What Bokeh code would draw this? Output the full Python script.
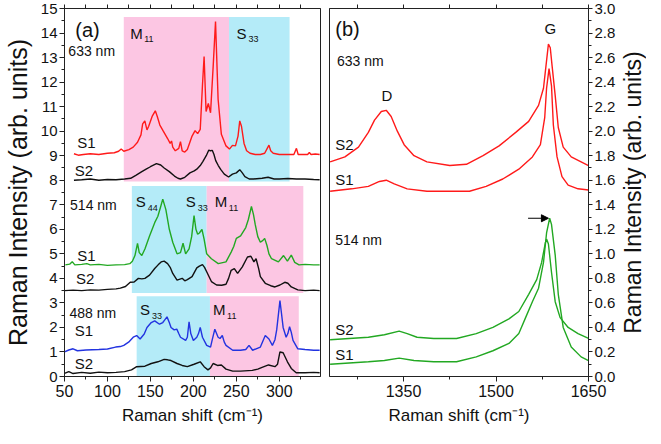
import math
from bokeh.plotting import figure
from bokeh.layouts import row
from bokeh.models import (ColumnDataSource, Range1d, LinearAxis, SingleIntervalTicker, FixedTicker,
                          PrintfTickFormatter, Arrow, NormalHead, Title)
from bokeh.core.properties import value
from bokeh.embed import file_html
from bokeh.resources import INLINE

FONT = "Liberation Sans"

# ---------------- panel (a) data: RBM region ----------------
x633_s1 = [61, 66, 72, 80, 90, 100, 108, 113, 116, 119, 125, 130, 135, 139, 141, 143.5, 146, 148, 152, 155.7,
           158, 161, 165, 170, 173, 174.6, 176, 179, 183, 185, 187, 190, 193, 198.5, 202, 205, 208, 210.6,
           212.5, 214.8, 217.4, 220, 223, 225.8, 228.8, 232.6, 238, 242, 245.5, 249, 252, 254, 256, 259, 262,
           266, 272, 278, 283, 286, 288, 290, 293, 300, 310, 317, 320, 322, 328, 333, 335, 337, 342, 347]
y633_s1 = [9.08, 9.02, 9.05, 9.08, 9.05, 9.1, 9.12, 9.18, 9.27, 9.18, 9.25, 9.35, 9.55, 9.85, 10.3, 10.42, 10.05,
           10.2, 10.6, 10.83, 10.6, 10.25, 10.0, 9.7, 9.5, 9.6, 9.35, 9.2, 9.3, 9.57, 9.2, 9.15, 9.25, 9.8, 10.02,
           9.9, 10.07, 11.87, 13.04, 10.8, 11.13, 10.75, 12.6, 14.47, 11.3, 9.87, 9.4, 9.27, 9.42, 9.4, 9.8,
           10.42, 10.2, 9.5, 9.2, 9.1, 9.05, 9.05, 9.1, 9.3, 9.43, 9.2, 9.1, 9.05, 9.05, 9.05, 9.3, 9.05, 9.05,
           9.05, 9.13, 9.05, 9.07, 9.05]

x633_s2 = [61, 70, 80, 90, 100, 110, 120, 127, 133, 140, 145, 150, 157, 162, 166, 172, 178, 182, 185, 190, 196,
           201, 204, 208, 211, 215, 218, 220, 222, 224, 226, 229, 232, 236, 241, 245.5, 250, 254, 257, 260, 265,
           270, 280, 287, 294, 300, 310, 320, 330, 340, 347]
y633_s2 = [8.0, 8.02, 8.05, 8.0, 8.03, 8.02, 8.05, 8.08, 8.2, 8.35, 8.45, 8.55, 8.68, 8.62, 8.5, 8.35, 8.17,
           8.08, 8.05, 8.12, 8.3, 8.38, 8.45, 8.6, 8.76, 9.0, 9.23, 9.2, 9.22, 9.05, 8.8, 8.6, 8.43, 8.25, 8.13,
           8.25, 8.3, 8.43, 8.3, 8.15, 8.05, 8.05, 8.08, 8.12, 8.05, 8.05, 8.07, 8.05, 8.05, 8.03, 8.02]

x514_s1 = [51, 56, 59, 62, 70, 76, 80, 90, 100, 110, 120, 126, 129, 132, 135, 137, 140, 143.6, 149, 155, 158.7,
           162, 164.4, 168, 172, 176, 181, 185, 188, 191, 195, 198, 200.8, 203, 205, 207, 210, 212.5, 215.5,
           221, 229, 238, 244, 247, 250, 255, 261, 264, 267.6, 270, 272, 275, 278, 281, 283, 285.6, 288, 291,
           299, 305, 309.5, 314, 318, 323, 330, 340, 347]
y514_s1 = [4.55, 4.58, 4.68, 4.55, 4.57, 4.6, 4.55, 4.57, 4.53, 4.55, 4.56, 4.6, 4.7, 4.93, 5.43, 5.05, 4.93, 5.2,
           5.73, 6.27, 6.53, 6.93, 7.23, 6.8, 6.0, 5.47, 5.0, 5.05, 5.43, 5.0, 5.2, 5.7, 6.56, 6.0, 5.8, 5.85,
           6.0, 5.6, 5.0, 4.8, 4.6, 4.67, 5.07, 5.3, 5.63, 5.73, 6.07, 6.4, 6.93, 6.6, 6.2, 5.7, 5.47, 5.55,
           5.63, 5.35, 5.0, 4.8, 4.67, 4.93, 4.7, 4.95, 4.65, 4.55, 4.57, 4.55, 4.55]

x514_s2 = [50, 60, 70, 80, 90, 100, 110, 115, 121, 126.5, 131, 136, 140, 143.6, 149, 155, 159, 162.5, 166, 170,
           173, 176, 181, 187, 190, 193, 198.5, 204, 207, 210.6, 213, 215.5, 221, 227, 233, 238, 241, 244,
           247.7, 251.5, 257, 263, 267, 270.5, 273, 276, 278, 283.7, 290, 295, 300.8, 306.4, 310, 314, 321.6,
           330, 340, 347]
y514_s2 = [3.5, 3.52, 3.5, 3.53, 3.52, 3.55, 3.57, 3.6, 3.67, 3.84, 3.85, 4.0, 3.98, 4.0, 4.13, 4.4, 4.55, 4.67,
           4.7, 4.6, 4.45, 4.2, 3.93, 4.0, 3.9, 3.95, 4.07, 4.43, 4.5, 4.56, 4.45, 4.27, 3.87, 3.73, 3.72, 3.76,
           4.0, 4.33, 4.4, 4.2, 4.47, 4.87, 4.9, 4.67, 4.8, 4.4, 4.07, 3.8, 3.7, 3.65, 3.73, 3.84, 3.8, 3.65,
           3.53, 3.5, 3.52, 3.5]

x488_s1 = [50, 55, 60, 65, 75, 90, 100, 109.5, 115, 119, 124.6, 130, 134, 138, 142.8, 146, 151, 155, 160.6,
           164.4, 166.5, 169.3, 172, 174, 177.7, 180.7, 183, 185, 191, 193, 195, 197, 200, 204, 206, 208, 210.6,
           215.5, 220, 222, 225, 228.8, 231, 233.7, 236, 238, 245.8, 255, 261, 264.8, 269, 278, 283.7, 288, 292,
           295, 297, 300.8, 302.5, 304.5, 308, 310, 312, 314, 316, 321.6, 330, 340, 347]
y488_s1 = [1.0, 1.08, 1.13, 1.05, 1.08, 1.1, 1.12, 1.2, 1.22, 1.27, 1.4, 1.6, 1.67, 1.53, 1.73, 2.0, 2.2, 2.27,
           2.13, 2.2, 2.3, 2.43, 2.2, 2.0, 1.9, 1.93, 1.75, 1.6, 1.47, 1.6, 2.23, 1.75, 1.47, 1.6, 1.75, 2.0, 1.6,
           1.27, 1.2, 1.5, 1.93, 1.6, 1.55, 1.67, 1.4, 1.27, 1.07, 1.07, 1.1, 1.27, 1.07, 1.2, 1.67, 1.53, 1.27,
           1.5, 1.9, 3.09, 2.6, 2.0, 1.6, 1.75, 2.03, 1.8, 1.47, 1.13, 1.1, 1.07, 1.07]

x488_s2 = [50, 55, 60, 70, 80, 90, 100, 110, 120, 128, 134, 143.6, 151, 158.7, 166, 170, 174, 181, 187, 193,
           200.8, 208, 212.5, 217, 220, 223, 228, 232.6, 238, 245.8, 255, 268.6, 275, 280, 287.5, 295, 298,
           300.8, 304.5, 309.5, 314, 319.7, 330, 340, 347]
y488_s2 = [0.13, 0.2, 0.12, 0.17, 0.13, 0.18, 0.15, 0.17, 0.2, 0.27, 0.4, 0.42, 0.53, 0.6, 0.7, 0.68, 0.65, 0.53,
           0.45, 0.4, 0.5, 0.6, 0.4, 0.27, 0.35, 0.53, 0.45, 0.47, 0.3, 0.22, 0.22, 0.25, 0.3, 0.37, 0.47, 0.4,
           0.5, 1.0, 0.97, 0.6, 0.33, 0.15, 0.15, 0.17, 0.15]

# resonance windows (M11 / S33 / S44)
band_left = [119, 241.5, 128.4, 215.5, 134, 219.3]
band_right = [241.5, 312, 215.5, 328, 219.3, 322.7]
band_bottom = [7.95, 7.95, 3.4, 3.4, 0.0, 0.0]
band_top = [14.65, 14.65, 7.77, 7.77, 3.27, 3.27]
band_kind = ["M", "S", "S", "M", "S", "M"]

# ---------------- panel (b) data: D / G region ----------------
xg633_s2 = [1231, 1255, 1277, 1293, 1303, 1314, 1322, 1330, 1340, 1351, 1367, 1388, 1425, 1452, 1479, 1505, 1532,
            1553, 1569, 1577, 1581, 1585, 1588, 1591, 1596, 1601, 1609, 1622, 1638, 1650]
yg633_s2 = [1.75, 1.79, 1.87, 1.99, 2.09, 2.16, 2.17, 2.12, 2.0, 1.89, 1.8, 1.75, 1.72, 1.73, 1.8, 1.88, 1.99,
            2.08, 2.21, 2.35, 2.53, 2.71, 2.68, 2.53, 2.29, 2.03, 1.87, 1.79, 1.75, 1.72]
xg633_s1 = [1231, 1266, 1293, 1311, 1322, 1335, 1356, 1388, 1425, 1457, 1484, 1511, 1537, 1559, 1572, 1579, 1582,
            1586, 1590, 1593, 1599, 1607, 1617, 1633, 1650]
yg633_s1 = [1.51, 1.53, 1.55, 1.59, 1.6, 1.57, 1.53, 1.51, 1.51, 1.51, 1.55, 1.61, 1.69, 1.79, 1.89, 2.11, 2.35,
            2.51, 2.37, 2.05, 1.79, 1.63, 1.56, 1.53, 1.52]
xg514_s2 = [1231, 1293, 1319, 1343, 1356, 1372, 1399, 1436, 1468, 1495, 1521, 1537, 1553, 1566, 1574, 1580, 1582,
            1585, 1590, 1596, 1604, 1617, 1633, 1650]
yg514_s2 = [0.30, 0.32, 0.34, 0.37, 0.35, 0.32, 0.31, 0.31, 0.35, 0.4, 0.47, 0.53, 0.67, 0.79, 0.93, 1.09, 1.12,
            1.08, 0.85, 0.61, 0.48, 0.4, 0.35, 0.31]
xg514_s1 = [1231, 1293, 1319, 1343, 1367, 1399, 1436, 1468, 1495, 1521, 1537, 1548, 1559, 1569, 1577, 1582, 1587,
            1590, 1596, 1601, 1609, 1622, 1638, 1650]
yg514_s1 = [0.10, 0.12, 0.13, 0.15, 0.13, 0.12, 0.12, 0.16, 0.21, 0.27, 0.35, 0.48, 0.61, 0.72, 0.93, 1.17, 1.29,
            1.24, 0.99, 0.67, 0.4, 0.24, 0.16, 0.13]
shift_arrow_x = [1552, 1585]
shift_arrow_y = [1.29, 1.29]

# ---------------- ticks ----------------
top_ticks_a = [50, 75, 100, 125, 150, 175, 200, 225, 250, 275, 300, 325]
top_ticks_b = [1275, 1350, 1425, 1500, 1575, 1650]

# ---------------- text ----------------
a_title = ["(a)"]; a_title_x = [62.5]; a_title_y = [14.12]
a_laser = ["633 nm", "514 nm", "488 nm"]; a_laser_x = [54.5, 56.5, 55.7]; a_laser_y = [13.25, 7.0, 2.6]
a_sample = ["S1", "S2", "S1", "S2", "S1", "S2"]
a_sample_x = [64.8, 62, 64.8, 63.3, 62, 62]
a_sample_y = [9.55, 8.4, 4.93, 4.0, 1.87, 0.53]
a_band = ["M", "S", "S", "S", "M", "S", "M"]
a_band_sub = ["11", "33", "44", "33", "11", "33", "11"]
a_band_x = [126.5, 250.3, 133, 191, 225, 138, 223]
a_band_y = [14.0, 14.0, 7.13, 7.13, 7.13, 2.73, 2.73]

b_title = ["(b)"]; b_title_x = [1239.4]; b_title_y = [2.83]
b_laser = ["633 nm", "514 nm"]; b_laser_x = [1242, 1239.4]; b_laser_y = [2.57, 1.115]
b_sample = ["S2", "S1", "S2", "S1"]; b_sample_x = [1239.4] * 4; b_sample_y = [1.89, 1.61, 0.387, 0.18]
b_peak = ["D", "G"]; b_peak_x = [1323, 1588]; b_peak_y = [2.29, 2.84]

X_TITLE = "Raman shift (cm\u207b\u00b9)"
Y_TITLE = "Raman Intensity (arb. units)"

RED = "#ff1a1a"
GREEN = "#22a822"
BLUE = "#2233e0"
BLACK = "#111111"
PINK = "#fcc6e3"
CYAN = "#b4ebf8"
AX = "#222222"

H = 428
TOP = 8
BOTTOM = 52


def style_axes(p):
    for ax in p.axis:
        ax.major_tick_in = 0
        ax.major_tick_out = 5
        ax.minor_tick_in = 0
        ax.minor_tick_out = 3
        ax.axis_line_color = AX
        ax.major_tick_line_color = AX
        ax.minor_tick_line_color = AX
        ax.major_label_text_font = FONT
        ax.major_label_text_color = "#111111"
        ax.axis_label_text_font = FONT
        ax.axis_label_text_font_style = "normal"
        ax.axis_label_text_color = "#111111"
        ax.major_label_standoff = 3
    p.grid.visible = False
    p.outline_line_color = AX
    p.background_fill_color = "white"
    p.border_fill_color = "white"


def add_top(p, ticks):
    top = LinearAxis(ticker=FixedTicker(ticks=[], minor_ticks=ticks), axis_line_color=AX,
                     minor_tick_in=0, minor_tick_out=4, minor_tick_line_color=AX,
                     major_tick_in=0, major_tick_out=0)
    p.add_layout(top, "above")


def txt(p, xs, ys, texts, size, align="left", dx=None, dy=None):
    data = dict(x=xs, y=ys, t=texts)
    kw = {}
    if dx is not None:
        data["dx"] = dx
        data["dy"] = dy
        kw = dict(x_offset="dx", y_offset="dy")
    p.text(x="x", y="y", text="t", source=ColumnDataSource(data), text_font=value(FONT),
           text_font_size=size, text_align=align, text_baseline="middle", text_color="#111111", **kw)


# ---------------- panel (a) ----------------
p1 = figure(width=324, height=H, x_range=Range1d(50, 348), y_range=Range1d(0, 15),
            output_backend="svg", toolbar_location=None,
            min_border_left=60, min_border_right=4, min_border_top=TOP, min_border_bottom=BOTTOM)
p1.xaxis.ticker = SingleIntervalTicker(interval=50, num_minor_ticks=2)
p1.yaxis.ticker = SingleIntervalTicker(interval=1, num_minor_ticks=2)
p1.xaxis.axis_label = X_TITLE
p1.yaxis.axis_label = Y_TITLE
style_axes(p1)
p1.xaxis.major_label_text_font_size = "16px"
p1.yaxis.major_label_text_font_size = "15px"
p1.xaxis.axis_label_text_font_size = "17px"
p1.yaxis.axis_label_text_font_size = "25px"
p1.xaxis.axis_label_standoff = 6
p1.yaxis.axis_label_standoff = 6
p1.yaxis.major_label_standoff = 2
add_top(p1, top_ticks_a)

band_color = [PINK if k == "M" else CYAN for k in band_kind]
p1.quad(left=band_left, right=band_right, bottom=band_bottom, top=band_top, fill_color=band_color,
        line_color=None)
for xs, ys, c in [(x633_s1, y633_s1, RED), (x633_s2, y633_s2, BLACK), (x514_s1, y514_s1, GREEN),
                  (x514_s2, y514_s2, BLACK), (x488_s1, y488_s1, BLUE), (x488_s2, y488_s2, BLACK)]:
    p1.line(xs, ys, line_color=c, line_width=1.4)

txt(p1, a_title_x, a_title_y, a_title, "20px")
txt(p1, a_laser_x, a_laser_y, a_laser, "14px")
txt(p1, a_sample_x, a_sample_y, a_sample, "15px")
txt(p1, a_band_x, a_band_y, a_band, "15px")
sub_dx = [14 if b == "M" else 12 for b in a_band]
txt(p1, a_band_x, a_band_y, a_band_sub, "9px", dx=sub_dx, dy=[6] * len(a_band))

# ---------------- panel (b) ----------------
p2 = figure(width=294, height=H, x_range=Range1d(1230, 1650), y_range=Range1d(0, 3.0),
            output_backend="svg", toolbar_location=None, y_axis_location="right",
            min_border_left=5, min_border_right=29, min_border_top=TOP, min_border_bottom=BOTTOM)
p2.xaxis.ticker = SingleIntervalTicker(interval=150, num_minor_ticks=2)
p2.yaxis.ticker = SingleIntervalTicker(interval=0.2, num_minor_ticks=2)
p2.yaxis.formatter = PrintfTickFormatter(format="%.1f")
p2.xaxis.axis_label = X_TITLE
style_axes(p2)
p2.xaxis.major_label_text_font_size = "16px"
p2.yaxis.major_label_text_font_size = "15px"
p2.xaxis.axis_label_text_font_size = "17px"
p2.xaxis.axis_label_standoff = 6
p2.yaxis.major_label_standoff = 2
p2.yaxis.major_tick_out = 4
add_top(p2, top_ticks_b)

for xs, ys, c in [(xg633_s2, yg633_s2, RED), (xg633_s1, yg633_s1, RED),
                  (xg514_s2, yg514_s2, GREEN), (xg514_s1, yg514_s1, GREEN)]:
    p2.line(xs, ys, line_color=c, line_width=1.4)

p2.add_layout(Arrow(end=NormalHead(size=7, fill_color="black", line_color="black"),
                    x_start=shift_arrow_x[0], y_start=shift_arrow_y[0],
                    x_end=shift_arrow_x[1], y_end=shift_arrow_y[1], line_color="black", line_width=1.2))

txt(p2, b_title_x, b_title_y, b_title, "20px")
txt(p2, b_laser_x, b_laser_y, b_laser, "14px")
txt(p2, b_sample_x, b_sample_y, b_sample, "15px")
txt(p2, b_peak_x, b_peak_y, b_peak, "15px", align="center")

# ---------------- right-hand intensity title (reads bottom-to-top) ----------------
p3 = figure(width=27, height=H, title=None, output_backend="svg", toolbar_location=None,
            min_border_left=0, min_border_right=0, min_border_top=TOP, min_border_bottom=BOTTOM)
p3.axis.visible = False
p3.grid.visible = False
p3.outline_line_color = None
p3.background_fill_color = "white"
p3.border_fill_color = "white"
p3.add_layout(Title(text=Y_TITLE, align="center", text_font=FONT, text_font_size="23px",
                    text_font_style="normal", text_color="#111111", standoff=0, offset=0), "left")

layout = row(p1, p2, p3)
open("out.html", "w").write(file_html(layout, INLINE))
